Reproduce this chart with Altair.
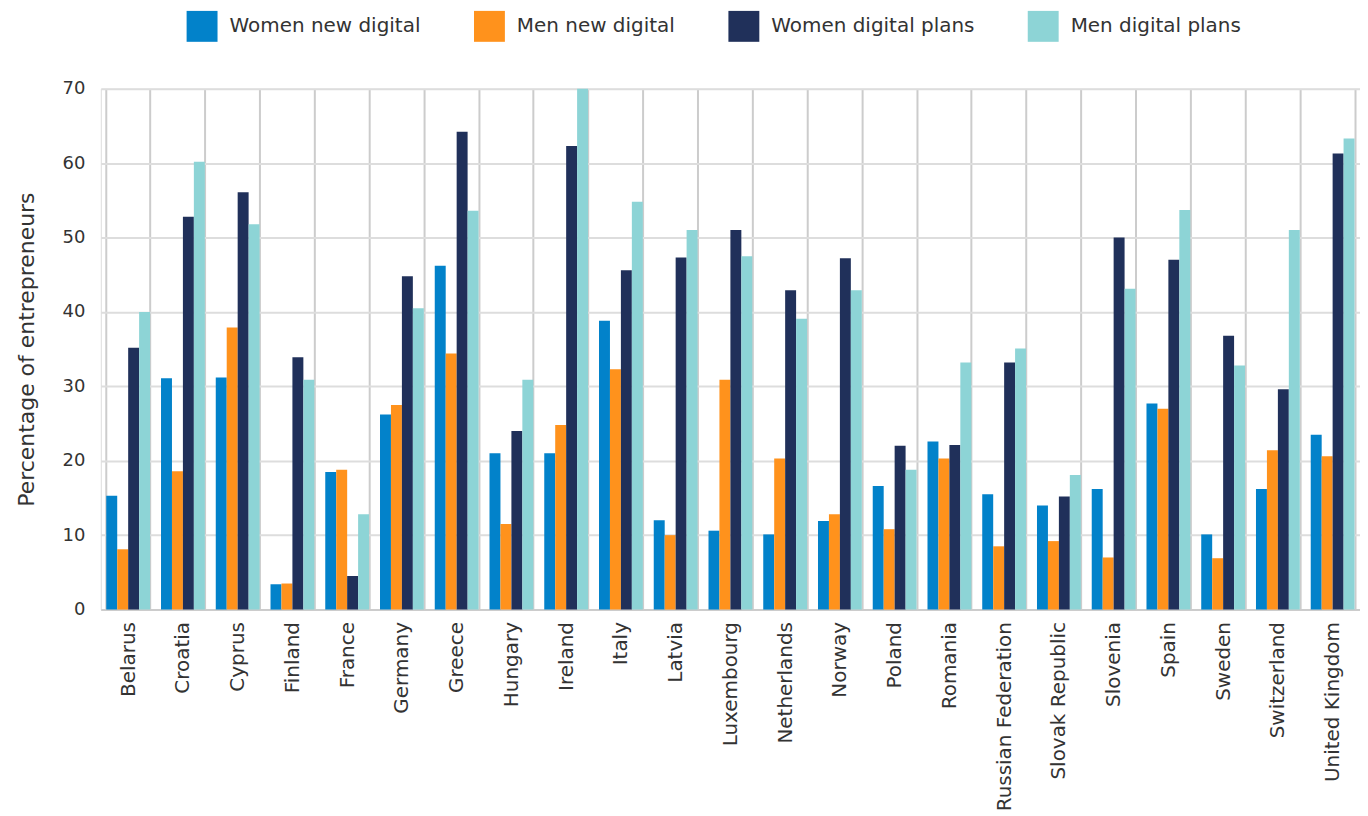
import altair as alt
import pandas as pd

countries = ["Belarus", "Croatia", "Cyprus", "Finland", "France", "Germany", "Greece",
             "Hungary", "Ireland", "Italy", "Latvia", "Luxembourg", "Netherlands", "Norway",
             "Poland", "Romania", "Russian Federation", "Slovak Republic", "Slovenia",
             "Spain", "Sweden", "Switzerland", "United Kingdom"]
series_names = ["Women new digital", "Men new digital", "Women digital plans", "Men digital plans"]
women_new = [15.3, 31.1, 31.2, 3.4, 18.5, 26.2, 46.2, 21.0, 21.0, 38.8, 12.0, 10.6, 10.1, 11.9,
             16.6, 22.6, 15.5, 14.0, 16.2, 27.7, 10.1, 16.2, 23.5]
men_new = [8.1, 18.6, 37.9, 3.5, 18.8, 27.5, 34.4, 11.5, 24.8, 32.3, 10.0, 30.9, 20.3, 12.8,
           10.8, 20.3, 8.5, 9.2, 7.0, 27.0, 6.9, 21.4, 20.6]
women_plans = [35.2, 52.8, 56.1, 33.9, 4.5, 44.8, 64.2, 24.0, 62.3, 45.6, 47.3, 51.0, 42.9, 47.2,
               22.0, 22.1, 33.2, 15.2, 50.0, 47.0, 36.8, 29.6, 61.3]
men_plans = [40.0, 60.2, 51.8, 30.9, 12.8, 40.5, 53.6, 30.9, 70.0, 54.8, 51.0, 47.5, 39.1, 42.9,
             18.8, 33.2, 35.1, 18.1, 43.1, 53.7, 32.8, 51.0, 63.3]
colors = ["#0282CA", "#FF921C", "#20305A", "#8DD4D6"]

rows = []
for name, vals in zip(series_names, [women_new, men_new, women_plans, men_plans]):
    for c, v in zip(countries, vals):
        rows.append({"country": c, "series": name, "value": v})
df = pd.DataFrame(rows)

font = "DejaVu Sans"

chart = alt.Chart(df).mark_bar().encode(
    x=alt.X("country:N", sort=countries,
            scale=alt.Scale(paddingInner=0.2, paddingOuter=0.1),
            axis=alt.Axis(title=None, labelAngle=-90, labelAlign="right", labelBaseline="middle",
                          labelFontSize=20, labelColor="#333333", labelFont=font, labelPadding=12,
                          labelLimit=0,
                          ticks=False, tickBand="extent", grid=True, gridColor="#cccccc",
                          gridWidth=2, domainColor="#cccccc", domainWidth=2)),
    xOffset=alt.XOffset("series:N", sort=series_names, scale=alt.Scale(paddingInner=0, paddingOuter=0)),
    y=alt.Y("value:Q", scale=alt.Scale(domain=[0, 70], nice=False),
            axis=alt.Axis(title="Percentage of entrepreneurs", values=list(range(0, 71, 10)),
                          titleFontSize=22, titleFont=font, titleFontWeight="normal",
                          titleColor="#333333", titlePadding=24,
                          labelFontSize=18, labelFont=font, labelColor="#333333", labelPadding=16,
                          ticks=False, domain=False, grid=True, gridColor="#dddddd", gridWidth=2)),
    color=alt.Color("series:N", sort=series_names,
                    scale=alt.Scale(domain=series_names, range=colors),
                    legend=alt.Legend(title=None, orient="none", legendX=86, legendY=-78,
                                      direction="horizontal", symbolType="square",
                                      symbolSize=960, symbolStrokeWidth=0, symbolOpacity=1,
                                      labelFontSize=20, labelFont=font, labelColor="#333333",
                                      labelLimit=0, columnPadding=53, labelOffset=12)),
).properties(width=1262, height=522,
             padding={"left": 7, "top": 2, "right": 0, "bottom": 0}
).configure_view(stroke=None).configure(background="white")

chart.save("out.html", embed_options={"renderer": "svg", "actions": False})
